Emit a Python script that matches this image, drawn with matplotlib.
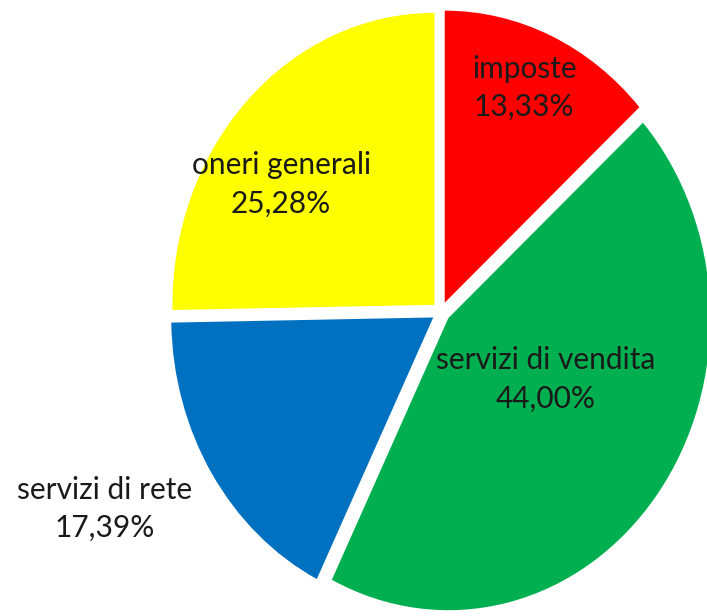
import numpy as np
import matplotlib
matplotlib.use('Agg')
from matplotlib import pyplot as plt

# Slices, clockwise from 12 o'clock
labels = ['imposte', 'servizi di vendita', 'servizi di rete', 'oneri generali']
values = [13.33, 44.00, 17.39, 25.28]
colors = ['#FF0000', '#00B050', '#0070C0', '#FFFF00']

# label placement: (radius, angle in degrees) relative to pie centre
label_polar = [(0.83, 67.5), (0.46, -30.0), (1.45, -152.3), (0.75, 144.4)]

plt.rcParams['font.family'] = ['Lato', 'DejaVu Sans']

fig = plt.figure(figsize=(7.07, 6.16), dpi=100)
ax = fig.add_axes([0, 0, 1, 1])

wedges, _ = ax.pie(values, colors=colors, startangle=90, counterclock=False,
                   explode=[0.035] * len(values),
                   wedgeprops=dict(edgecolor='none'))

for lab, val, (r, ang) in zip(labels, values, label_polar):
    a = np.deg2rad(ang)
    txt = lab + '\n' + ('%.2f%%' % val).replace('.', ',')
    ax.text(r * np.cos(a), r * np.sin(a), txt, ha='center', va='center',
            fontsize=21.5, color='#1a1a1a', linespacing=1.45)

# pie is a bit taller than wide in the reference
rx, ry = 262.0, 292.0
cx, cy = 441.0, 312.0
ax.set_aspect('auto')
ax.set_xlim(-cx / rx, (707 - cx) / rx)
ax.set_ylim(-(616 - cy) / ry, cy / ry)
ax.axis('off')

plt.savefig('out.png', dpi=100)
